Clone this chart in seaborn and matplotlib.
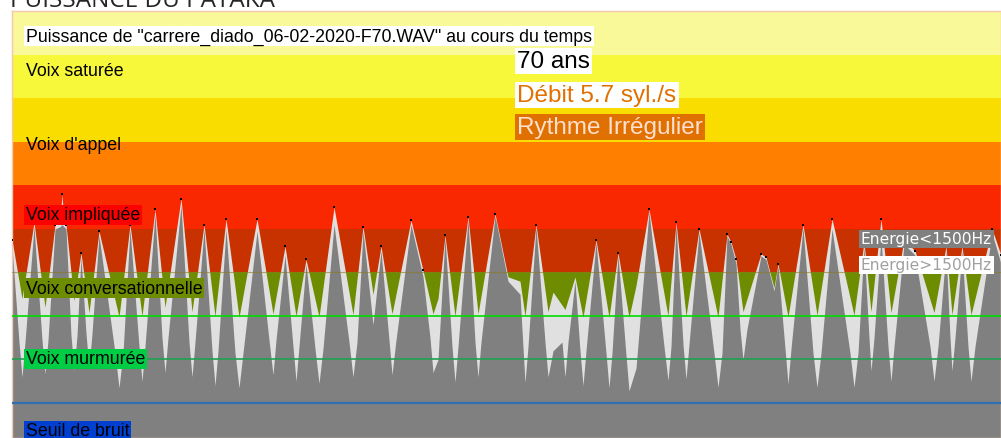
import numpy as np
import matplotlib
matplotlib.use("Agg")
import matplotlib.pyplot as plt
import seaborn as sns
import pandas as pd

# time (s) and energy levels (dB)
t_s = [0.00, 0.10, 0.22, 0.33, 0.43, 0.48, 0.50, 0.52, 0.54, 0.62, 0.69, 0.77, 0.87,
       1.07, 1.18, 1.30, 1.43, 1.53, 1.69, 1.80, 1.92, 2.03, 2.14, 2.27, 2.45, 2.61,
       2.73, 2.84, 2.94, 3.07, 3.22, 3.41, 3.51, 3.61, 3.69, 3.80, 3.99, 4.11, 4.21,
       4.26, 4.33, 4.43, 4.56, 4.66, 4.83, 4.96, 5.08, 5.13, 5.24, 5.36, 5.41, 5.53,
       5.63, 5.71, 5.84, 5.97, 6.06, 6.17, 6.24, 6.37, 6.56, 6.64, 6.74, 6.87, 7.06,
       7.15, 7.19, 7.24, 7.31, 7.49, 7.54, 7.62, 7.66, 7.76, 7.91, 8.05, 8.20, 8.42,
       8.52, 8.59, 8.69, 8.79, 8.92, 9.03, 9.22, 9.34, 9.40, 9.50, 9.59, 9.80, 9.89]
energie_basse = [56, 26, 60.5, 26.7, 60, 60.5, 61, 60.5, 60, 27.5, 53.5, 28, 58.5,
                 23.5, 60, 25, 63.5, 27, 65.5, 26, 60, 24, 60, 23.5, 59.5, 26.5,
                 54, 25, 52, 24.5, 61, 26, 59.5, 38, 55, 26.5, 61, 49, 27,
                 30, 58, 24.8, 62.3, 26, 63, 48, 45, 24.7, 60.5, 26, 32, 26,
                 48, 24, 57, 23.5, 54, 22.8, 28, 64, 25.2, 61, 25.5, 59.3, 23.6,
                 58.4, 56.5, 52, 30, 53.8, 53, 45.8, 51.5, 24.4, 60.3, 23.6, 60, 23.6,
                 56, 27.4, 58, 25, 56.5, 54, 25, 55, 27.4, 55, 25, 59, 52]
energie_haute = [57.5, 44, 61.5, 42, 61, 61.5, 68, 61.5, 61, 43.5, 54.5, 40.8, 59.5,
                 39.8, 61, 40, 64.5, 42, 67, 41, 61, 40, 62.3, 39.7, 62.3, 40.5,
                 56, 40, 53, 39.8, 65, 40.3, 60.5, 45, 56, 40.5, 62, 50.5, 40.5,
                 44, 58.5, 40, 62.8, 40.5, 63.5, 49, 48, 40, 61, 41, 45.5, 41.5,
                 49, 39.7, 57.5, 39.7, 54.5, 39.7, 47, 64.5, 40, 61.5, 40, 60, 39.7,
                 58.8, 57, 53, 41, 54.3, 53.5, 46.5, 52, 39.8, 61, 40.2, 62.3, 40.2,
                 57, 41, 62.3, 40.8, 57.5, 55, 40.8, 56, 40.3, 56, 40.3, 60, 54]

# edges of the low-frequency dips (where the pale "icicles" start)
t_epaule = [0.07, 0.13, 0.30, 0.36, 0.59, 0.65, 0.74, 0.80, 1.03, 1.11, 1.27, 1.33,
            1.50, 1.56, 1.77, 1.83, 2.00, 2.06, 2.23, 2.31, 2.57, 2.64, 2.81, 2.87,
            3.03, 3.11, 3.37, 3.45, 3.77, 3.84, 4.18, 4.40, 4.46, 4.63, 4.69, 5.16,
            5.33, 5.50, 5.56, 5.68, 5.74, 5.94, 6.00, 6.14, 6.52, 6.59, 6.71, 6.77,
            7.02, 7.10, 7.28, 7.35, 7.73, 7.79, 8.01, 8.09, 8.38, 8.46, 8.57, 8.62,
            8.76, 8.82, 9.18, 9.26, 9.38, 9.43, 9.56, 9.63]
basse_epaule = [34, 34, 34.5, 34.5, 35.5, 35.5, 36, 36, 31.5, 31.5, 33, 33,
                35, 35, 34, 34, 32, 32, 31.5, 31.5, 34.5, 34.5, 33, 33,
                32.5, 32.5, 34, 34, 34.5, 34.5, 35, 33, 33, 34, 34, 33,
                34, 34, 34, 32, 32, 31.5, 31.5, 31, 33, 33, 33.5, 33.5,
                31.5, 31.5, 37, 37, 32.5, 32.5, 31.5, 31.5, 31.5, 31.5, 35, 35,
                33, 33, 33, 33, 35, 35, 33, 33]

zones = ["Voix saturée", "Voix d'appel", "Voix impliquée", "Voix conversationnelle",
         "Voix murmurée", "Seuil de bruit"]
bandes_db = [110, 100, 90, 80, 70, 60, 50, 40]
bandes_couleurs = ["#f9f99a", "#f8f83a", "#f9dc00", "#ff8000", "#f92800", "#c83200", "#6e8c00"]

df_haute = pd.DataFrame({"t": t_s, "db": energie_haute})
df_basse = pd.concat([pd.DataFrame({"t": t_s, "db": energie_basse}),
                      pd.DataFrame({"t": t_epaule, "db": basse_epaule})]).sort_values("t")

sns.set_style("white")
plt.rcParams["font.family"] = ["Liberation Sans", "DejaVu Sans"]

W, H = 1001, 439
fig = plt.figure(figsize=(W / 100, H / 100), dpi=100)
ax = fig.add_axes([12 / W, 0, 989 / W, 427 / H])

for top, bot, c in zip(bandes_db[:-1], bandes_db[1:], bandes_couleurs):
    ax.axhspan(bot, top, color=c, zorder=0, lw=0)
ax.axhspan(0, 40, color="#808080", zorder=0, lw=0)

ax.fill_between(df_haute["t"], 0, df_haute["db"], color="#e0e0e0", lw=0, zorder=1)
ax.fill_between(df_basse["t"], 0, df_basse["db"], color="#808080", lw=0, zorder=2)

pts = df_haute[df_haute["db"] > 50]
sns.scatterplot(data=pts, x="t", y="db", color="black", s=4, marker="s",
                linewidth=0, ax=ax, zorder=4)

ax.axhline(50, color="#8a7a20", lw=0.8, alpha=0.6, zorder=3)
ax.axhline(40, color="#00dd00", lw=1.2, zorder=3)
ax.axhline(30, color="#20a050", lw=1.2, zorder=3)
ax.axhline(20, color="#2f6fb0", lw=1.6, zorder=3)

ax.set_xlim(0, 9.89)
ax.set_ylim(11.95, 110.1)
ax.set_xticks([])
ax.set_yticks([])
ax.set_xlabel("")
ax.set_ylabel("")
for s in ax.spines.values():
    s.set_color("#f2c8b0")
    s.set_linewidth(1)


def px(x, y):
    return x / W, 1 - y / H


def lab(x, y, s, size=12.8, color="black", bg=None, **kw):
    bbox = dict(boxstyle="square,pad=0.1", fc=bg, ec="none") if bg else None
    fig.text(*px(x, y), s, fontsize=size, color=color, va="center", ha="left",
             bbox=bbox, zorder=10, **kw)


fig.text(*px(10, 7), "PUISSANCE DU PATAKA", fontsize=17.5, va="baseline",
         family=["Open Sans", "DejaVu Sans"])

lab(26, 37, 'Puissance de "carrere_diado_06-02-2020-F70.WAV" au cours du temps', bg="white")
lab(26, 72, zones[0])
lab(26, 145, zones[1])
lab(26, 216, zones[2], bg="#ff0000")
lab(26, 289, zones[3], bg="#6e8c00")
lab(26, 360, zones[4], bg="#00cc44")
lab(26, 432, zones[5], bg="#0040d0")

lab(517, 62, "70 ans", size=17.5, bg="white")
lab(517, 96, "Débit 5.7 syl./s", size=17.5, color="#e07000", bg="white")
lab(517, 128, "Rythme Irrégulier", size=17.5, color="#ffe0d0", bg="#e07000")

lab(861, 240, "Energie<1500Hz", size=11.2, color="white", bg="#808080",
    family=["DejaVu Sans"])
lab(861, 266, "Energie>1500Hz", size=11.2, color="#a0a0a0", bg="white",
    family=["DejaVu Sans"])

fig.savefig("out.png", dpi=100)
